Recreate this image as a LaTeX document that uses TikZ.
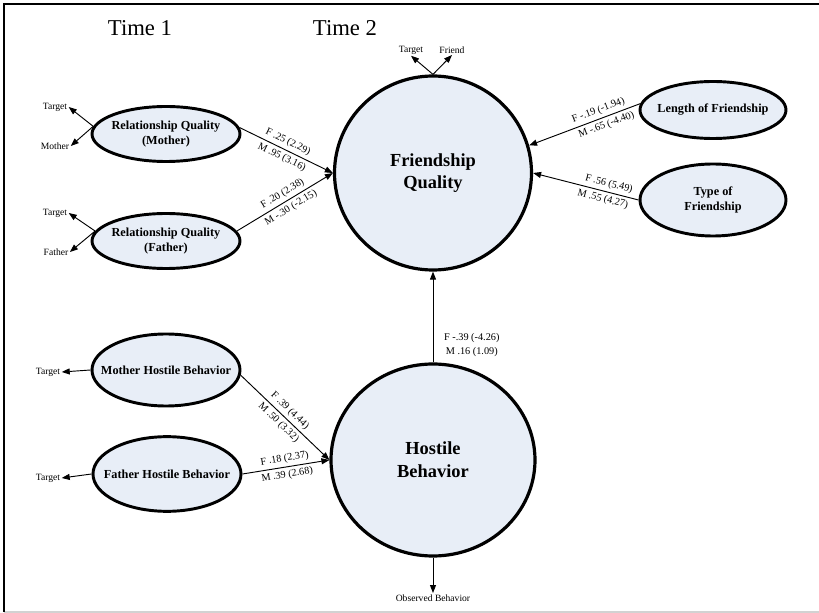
\documentclass[tikz,border=0pt]{standalone}
\usepackage{fontspec}
\setmainfont{Liberation Serif}
\usetikzlibrary{shapes.geometric,arrows.meta}
\definecolor{fillblue}{RGB}{232,238,247}
\begin{document}
\begin{tikzpicture}[x=0.75pt,y=-0.75pt,
  ell/.style={ellipse,draw,line width=2.2pt,fill=fillblue,inner sep=0pt,inner xsep=-12pt,align=center,font=\fontsize{9.2}{11}\selectfont\bfseries},
  big/.style={ellipse,draw,line width=2.4pt,fill=fillblue,inner sep=0pt,align=center,font=\fontsize{13.8}{17}\selectfont\bfseries},
  lab/.style={font=\fontsize{7.2}{8.5}\selectfont,inner sep=1pt},
  elab/.style={font=\fontsize{7.7}{9}\selectfont,inner sep=2.3pt},
  arr/.style={-{Triangle[length=6pt,width=4.5pt]},line width=0.7pt},
  rarr/.style={{Triangle[length=6pt,width=4.5pt]}-,line width=0.7pt},
  timelab/.style={font=\fontsize{17}{20}\selectfont}]
\useasboundingbox (0,0) rectangle (819,613);
% frame
\draw[gray!35,line width=0.8pt] (4,612) -- (819,612);
\draw[line width=1.1pt] (4,612) -- (4,4) -- (819,4);
% titles
\node[timelab] (t1) at (140,28) {Time 1};
\node[timelab] (t2) at (345,28) {Time 2};
% nodes
\node[ell,minimum width=111pt,minimum height=41.25pt] (rqm) at (166,134) {Relationship Quality\\(Mother)};
\node[ell,minimum width=111pt,minimum height=41.25pt] (rqf) at (166,241) {Relationship Quality\\(Father)};
\node[ell,minimum width=109.5pt,minimum height=42.75pt] (lof) at (713,110) {Length of Friendship};
\node[ell,minimum width=109.5pt,minimum height=54pt] (tof) at (713,200) {Type of\\Friendship};
\node[ell,minimum width=111pt,minimum height=54pt] (mhb) at (166,370) {Mother Hostile Behavior};
\node[ell,minimum width=111pt,minimum height=56pt] (fhb) at (167,474) {Father Hostile Behavior};
\node[big,minimum width=147.75pt,minimum height=145.5pt] (fq) at (433,173) {Friendship\\Quality};
\node[big,minimum width=153pt,minimum height=144pt] (hb) at (433,460) {Hostile\\Behavior};
% indicator labels
\node[lab] (it1) at (55,107) {Target};
\node[lab] (im1) at (55,146) {Mother};
\node[lab] (it2) at (55,213) {Target};
\node[lab] (if2) at (56,252) {Father};
\node[lab] (it3) at (48,372) {Target};
\node[lab] (it4) at (48,478) {Target};
\node[lab] (ift) at (411,50) {Target};
\node[lab] (iff) at (452,50) {Friend};
\node[lab] (obs) at (433,598) {Observed Behavior};
% indicator arrows
\draw[arr] (rqm.174) -- (it1.east);
\draw[arr] (rqm.174) -- (im1.east);
\draw[arr] (rqf.172) -- (it2.east);
\draw[arr] (rqf.172) -- (if2.east);
\draw[arr] (mhb.west) -- (it3.east);
\draw[arr] (fhb.west) -- (it4.east);
\draw[arr] (fq.north) -- (ift.south);
\draw[arr] (fq.north) -- (iff.south);
\draw[arr] (hb.south) -- (obs.north);
% structural paths
\draw[arr] (rqm.5) -- node[elab,sloped,above,pos=0.48]{F .25 (2.29)} node[elab,sloped,below,pos=0.49]{M .95 (3.16)} (fq.west);
\draw[arr] (rqf.8) -- node[elab,sloped,above,pos=0.52]{F .20 (2.38)} node[elab,sloped,below,pos=0.52]{M -.30 (-2.15)} (fq.west);
\draw[rarr] (fq.16) -- node[elab,sloped,above,pos=0.65]{F -.19 (-1.94)} node[elab,sloped,below,pos=0.67]{M -.65 (-4.40)} (lof.175);
\draw[rarr] (fq.east) -- node[elab,sloped,above,pos=0.7]{F .56 (5.49)} node[elab,sloped,below,pos=0.68]{M .55 (4.27)} (tof.west);
\draw[arr] (mhb.-4) -- node[elab,sloped,above,pos=0.49]{F .39 (4.44)} node[elab,sloped,below,pos=0.49]{M .50 (3.32)} (hb.west);
\draw[arr] (fhb.east) -- node[elab,sloped,above,pos=0.5]{F .18 (2.37)} node[elab,sloped,below,pos=0.5]{M .39 (2.68)} (hb.west);
\draw[arr] (hb.north) -- node[pos=0.19,anchor=west,xshift=7pt,inner sep=1pt,align=center,font=\fontsize{7.7}{11}\selectfont]{F -.39 (-4.26)\\M .16 (1.09)} (fq.south);
\end{tikzpicture}
\end{document}
